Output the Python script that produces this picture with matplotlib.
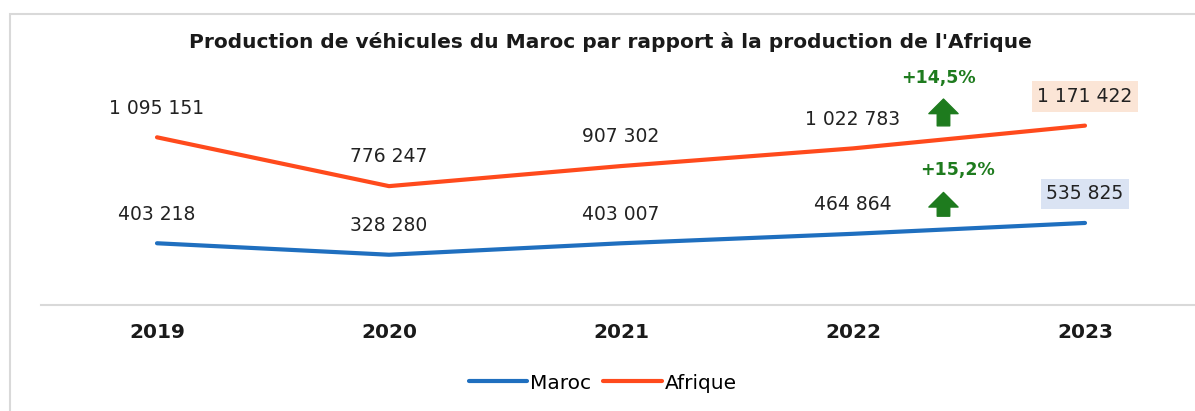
import matplotlib.pyplot as plt
from matplotlib.patches import Rectangle

# data
years = ["2019", "2020", "2021", "2022", "2023"]
maroc = [403218, 328280, 403007, 464864, 535825]
afrique = [1095151, 776247, 907302, 1022783, 1171422]
growth_labels = ["+14,5%", "+15,2%"]

col_maroc = "#1F6FBF"
col_afrique = "#FF4A1C"
col_green = "#1E7B1E"

def fmt(v):
    return f"{v:,}".replace(",", " ")

plt.rcParams['font.family'] = ['DejaVu Sans']

fig = plt.figure(figsize=(11.95, 4.11), dpi=100)
ax = fig.add_axes([41 / 1195, 106 / 411, 1 - 41 / 1195, 245 / 411])

x = list(range(len(years)))
ax.plot(x, maroc, color=col_maroc, lw=3, label="Maroc", solid_capstyle="round")
ax.plot(x, afrique, color=col_afrique, lw=3, label="Afrique", solid_capstyle="round")

ax.set_xlim(-0.5, -0.5 + (1195 - 41) / 232)
ax.set_ylim(0, 1600000)

# value labels
for i, (m, a) in enumerate(zip(maroc, afrique)):
    last = i == len(years) - 1
    for v, bg in ((m, "#DAE3F3"), (a, "#FBE5D6")):
        kw = {}
        if last:
            kw["bbox"] = dict(boxstyle="square,pad=0.3", fc=bg, ec="none")
        ax.annotate(fmt(v), (i, v), xytext=(0, 21), textcoords="offset points",
                    ha="center", va="center", fontsize=13.5, color="#222222", **kw)

# growth arrows between 2022 and 2023
xa = 3.39
for lab, y0, y1, ytxt, xt in ((growth_labels[0], 1170000, 1345000, 1482000, 3.37),
                              (growth_labels[1], 580000, 735000, 881000, 3.45)):
    ax.annotate("", xy=(xa, y1), xytext=(xa, y0),
                arrowprops=dict(arrowstyle="simple,head_length=0.7,head_width=1.4,tail_width=0.6",
                                mutation_scale=15, shrinkA=0, shrinkB=0,
                                fc=col_green, ec=col_green))
    ax.text(xt, ytxt, lab, ha="center", va="center", fontsize=12.5,
            fontweight="bold", color=col_green)

ax.set_xticks(x)
ax.set_xticklabels(years, fontsize=14.5, fontweight="bold", color="#1a1a1a")
ax.tick_params(axis="x", length=0, pad=13)
ax.set_yticks([])
for s in ("top", "right", "left"):
    ax.spines[s].set_visible(False)
ax.spines["bottom"].set_color("#d9d9d9")
ax.spines["bottom"].set_linewidth(1.5)

fig.text(610 / 1195, 1 - 42 / 411,
         "Production de véhicules du Maroc par rapport à la production de l'Afrique",
         ha="center", va="center", fontsize=14.5, fontweight="bold", color="#1a1a1a")

ax.legend(loc="center", bbox_to_anchor=(603 / 1195, 1 - 383 / 411),
          bbox_transform=fig.transFigure, ncol=2, frameon=False, fontsize=14.5,
          handlelength=2.9, handletextpad=0.15, columnspacing=0.6)

# outer frame
fig.add_artist(Rectangle((10 / 1195, -0.1), 1.2, 1 - 14 / 411 + 0.1,
                         transform=fig.transFigure, fill=False,
                         ec="#d9d9d9", lw=1.5))

fig.savefig("out.png", dpi=100)
